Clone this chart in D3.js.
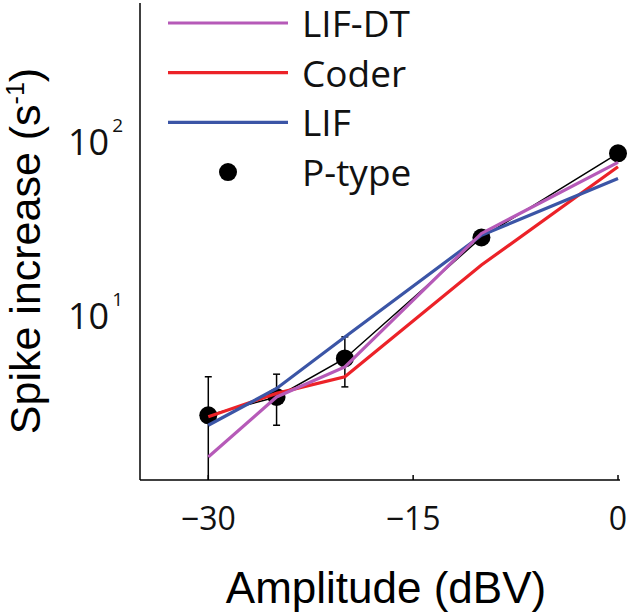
<!DOCTYPE html>
<html>
<head>
<meta charset="utf-8">
<script src="https://cdn.jsdelivr.net/npm/d3@7"></script>
<style>
  html, body { margin: 0; padding: 0; background: #fff; }
  svg { display: block; }
</style>
</head>
<body>
<svg id="chart" width="630" height="616"></svg>
<script>
// ---- data ----
const amplitudes = [-30, -25, -20, -10, 0];
const pType        = [2.59, 3.30, 5.49, 27.2, 82.8];
const pTypeErrHigh = [4.31, 4.46, 7.31, 28.6, 86.0];
const pTypeErrLow  = [0.5, 2.27, 3.77, 26.0, 79.5];
const lifDT = [1.49, 3.30, 4.91, 28.7, 73.5];
const coder = [2.54, 3.46, 4.31, 18.9, 69.3];
const lif   = [2.27, 3.69, 7.30, 28.0, 59.4];

const xTicks = [-30, -15, 0];
const xTickLabels = ["\u221230", "\u221215", "0"];
const yTicks = [10, 100];
const yTickExponents = ["1", "2"];

const legendItems = [
  { name: "LIF-DT", color: "#b65ab8", type: "line" },
  { name: "Coder",  color: "#ec2228", type: "line" },
  { name: "LIF",    color: "#3b55a6", type: "line" },
  { name: "P-type", color: "#000000", type: "dot" }
];

// ---- layout ----
const svg = d3.select("#chart");
const mLeft = 140, mRight = 620, mTop = 3, mBottom = 480;

const x = d3.scaleLinear().domain([-35, 0]).range([mLeft, 618]);
const y = d3.scaleLog().domain([1.1, 605]).range([mBottom, mTop]);

const tickFont = "'Open Sans', 'Noto Sans', sans-serif";
const titleFont = "'Liberation Sans', Arial, sans-serif";

svg.append("defs").append("clipPath").attr("id", "plotclip")
  .append("rect").attr("x", mLeft).attr("y", mTop)
  .attr("width", mRight - mLeft + 12).attr("height", mBottom - mTop);

// axes lines
svg.append("line").attr("x1", mLeft).attr("x2", mLeft).attr("y1", mTop).attr("y2", mBottom)
  .attr("stroke", "#000").attr("stroke-width", 1.5);
svg.append("line").attr("x1", mLeft).attr("x2", mRight).attr("y1", mBottom).attr("y2", mBottom)
  .attr("stroke", "#000").attr("stroke-width", 1.5);

// x ticks (pointing up)
const xAxisG = svg.append("g");
xAxisG.selectAll("line.tick").data(xTicks).join("line")
  .attr("x1", d => x(d)).attr("x2", d => x(d))
  .attr("y1", mBottom).attr("y2", mBottom - 5)
  .attr("stroke", "#000").attr("stroke-width", 1.5);
xAxisG.selectAll("text").data(xTicks).join("text")
  .attr("x", d => x(d)).attr("y", 530)
  .attr("text-anchor", "middle")
  .attr("font-family", tickFont).attr("font-size", 32).attr("fill", "#111")
  .text((d, i) => xTickLabels[i]);

// y tick labels 10^n
const yAxisG = svg.append("g");
yTicks.forEach((t, i) => {
  const txt = yAxisG.append("text")
    .attr("x", 123).attr("y", y(t) + 16)
    .attr("text-anchor", "end")
    .attr("font-family", tickFont).attr("font-size", 36).attr("fill", "#111");
  txt.append("tspan").text("10");
  txt.append("tspan").attr("dx", 3).attr("dy", -23).attr("font-size", 19).text(yTickExponents[i]);
});

// titles
svg.append("text").attr("x", 386).attr("y", 603)
  .attr("text-anchor", "middle")
  .attr("font-family", titleFont).attr("font-size", 44).attr("fill", "#000")
  .text("Amplitude (dBV)");

const yt = svg.append("text")
  .attr("transform", "translate(40,251) rotate(-90)")
  .attr("text-anchor", "middle")
  .attr("font-family", titleFont).attr("font-size", 43).attr("fill", "#000");
yt.append("tspan").text("Spike increase (s");
yt.append("tspan").attr("dy", -16).attr("font-size", 25).text("-1");
yt.append("tspan").attr("dy", 16).text(")");

// ---- plot ----
const plot = svg.append("g").attr("clip-path", "url(#plotclip)");
const line = d3.line().x(d => x(d[0])).y(d => y(d[1]));

// P-type black line
plot.append("path").datum(amplitudes.map((a, i) => [a, pType[i]]))
  .attr("d", line).attr("fill", "none").attr("stroke", "#000").attr("stroke-width", 1.5);

// error bars
const eb = plot.append("g").attr("stroke", "#000").attr("stroke-width", 1.5);
amplitudes.forEach((a, i) => {
  const cx = x(a);
  eb.append("line").attr("x1", cx).attr("x2", cx)
    .attr("y1", y(pTypeErrLow[i])).attr("y2", y(pTypeErrHigh[i]));
  eb.append("line").attr("x1", cx - 3.5).attr("x2", cx + 3.5)
    .attr("y1", y(pTypeErrHigh[i])).attr("y2", y(pTypeErrHigh[i]));
  eb.append("line").attr("x1", cx - 3.5).attr("x2", cx + 3.5)
    .attr("y1", y(pTypeErrLow[i])).attr("y2", y(pTypeErrLow[i]));
});

// markers
plot.selectAll("circle.pt").data(amplitudes).join("circle")
  .attr("cx", d => x(d)).attr("cy", (d, i) => y(pType[i])).attr("r", 9)
  .attr("fill", "#000");

// model lines
const series = [
  { vals: coder, color: legendItems[1].color },
  { vals: lif,   color: legendItems[2].color },
  { vals: lifDT, color: legendItems[0].color }
];
series.forEach(s => {
  plot.append("path").datum(amplitudes.map((a, i) => [a, s.vals[i]]))
    .attr("d", line).attr("fill", "none").attr("stroke", s.color)
    .attr("stroke-width", 3.2).attr("stroke-linejoin", "miter");
});

// ---- legend ----
const legend = svg.append("g");
legendItems.forEach((it, i) => {
  const ly = 23 + i * 49.7;
  if (it.type === "line") {
    legend.append("line").attr("x1", 168).attr("x2", 288).attr("y1", ly).attr("y2", ly)
      .attr("stroke", it.color).attr("stroke-width", 3.2);
  } else {
    legend.append("circle").attr("cx", 228).attr("cy", ly).attr("r", 9).attr("fill", it.color);
  }
  legend.append("text").attr("x", 302).attr("y", ly + 14)
    .attr("font-family", tickFont).attr("font-size", 37).attr("fill", "#111")
    .text(it.name);
});
</script>
</body>
</html>
